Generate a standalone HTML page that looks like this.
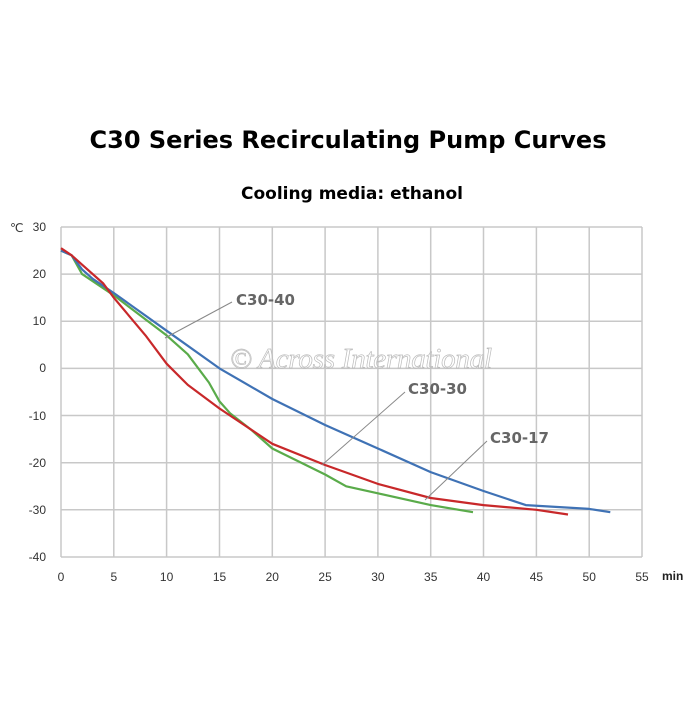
<!DOCTYPE html>
<html><head><style>body{margin:0;background:#fff}</style></head><body>
<svg width="700" height="700" xmlns="http://www.w3.org/2000/svg" font-family="Liberation Sans, DejaVu Sans, sans-serif">
<text x="348" y="148" text-anchor="middle" font-size="24" font-weight="bold" font-family="DejaVu Sans, sans-serif">C30 Series Recirculating Pump Curves</text>
<text x="352" y="199" text-anchor="middle" font-size="17" font-weight="bold" font-family="DejaVu Sans, sans-serif">Cooling media: ethanol</text>
<g stroke="#c8c8c8" stroke-width="1.5" fill="none">
<line x1="61" y1="227" x2="61" y2="557"/><line x1="113.8" y1="227" x2="113.8" y2="557"/><line x1="166.6" y1="227" x2="166.6" y2="557"/><line x1="219.5" y1="227" x2="219.5" y2="557"/><line x1="272.3" y1="227" x2="272.3" y2="557"/><line x1="325.1" y1="227" x2="325.1" y2="557"/><line x1="377.9" y1="227" x2="377.9" y2="557"/><line x1="430.7" y1="227" x2="430.7" y2="557"/><line x1="483.5" y1="227" x2="483.5" y2="557"/><line x1="536.4" y1="227" x2="536.4" y2="557"/><line x1="589.2" y1="227" x2="589.2" y2="557"/><line x1="642" y1="227" x2="642" y2="557"/>
<line x1="61" y1="227" x2="642" y2="227"/><line x1="61" y1="274.1" x2="642" y2="274.1"/><line x1="61" y1="321.3" x2="642" y2="321.3"/><line x1="61" y1="368.4" x2="642" y2="368.4"/><line x1="61" y1="415.5" x2="642" y2="415.5"/><line x1="61" y1="462.7" x2="642" y2="462.7"/><line x1="61" y1="509.8" x2="642" y2="509.8"/><line x1="61" y1="557" x2="642" y2="557"/>
</g>
<g font-size="12" fill="#333" text-anchor="middle">
<text x="61" y="581">0</text><text x="113.8" y="581">5</text><text x="166.6" y="581">10</text><text x="219.5" y="581">15</text><text x="272.3" y="581">20</text><text x="325.1" y="581">25</text><text x="377.9" y="581">30</text><text x="430.7" y="581">35</text><text x="483.5" y="581">40</text><text x="536.4" y="581">45</text><text x="589.2" y="581">50</text><text x="642" y="581">55</text>
</g>
<g font-size="12" fill="#333" text-anchor="end">
<text x="46" y="231">30</text><text x="46" y="278">20</text><text x="46" y="325">10</text><text x="46" y="372">0</text><text x="46" y="420">-10</text><text x="46" y="467">-20</text><text x="46" y="514">-30</text><text x="46" y="561">-40</text>
</g>
<text x="10" y="232" font-size="12" fill="#333">℃</text>
<text x="662" y="580" font-size="12" fill="#222" font-weight="bold">min</text>
<text x="230" y="368" font-size="29" font-style="italic" fill="none" stroke="#bbb" stroke-width="0.7" font-family="Liberation Serif, serif" textLength="262">© Across International</text>
<g fill="none" stroke-width="2.2" stroke-linejoin="round">
<polyline stroke="#5aab4a" points="61,250.6 71.6,255.3 82.1,274.1 113.8,295.3 166.6,335.4 187.8,354.3 208.9,382.5 219.5,401.4 230,413.2 251.1,429.7 272.3,448.5 325.1,474.5 346.2,486.3 377.9,493.3 430.7,505.1 473,512.2"/>
<polyline stroke="#3f72b5" points="61,250.6 71.6,255.3 82.1,269.4 92.7,278.8 113.8,293 166.6,330.7 219.5,368.4 272.3,399 325.1,425 377.9,448.5 430.7,472.1 483.5,491 525.8,505.1 589.2,508.9 610.3,512.2"/>
<polyline stroke="#c8282a" points="61,248.2 71.6,255.3 82.1,264.7 103.3,283.5 113.8,297.7 145.5,335.4 166.6,363.7 187.8,384.9 219.5,408.5 272.3,443.8 325.1,465 377.9,483.9 430.7,498 483.5,505.1 536.4,509.8 568,514.5"/>
</g>
<g stroke="#888" stroke-width="1">
<line x1="165" y1="338" x2="232" y2="302"/><line x1="322" y1="465" x2="405" y2="392"/><line x1="425" y1="500" x2="487" y2="441"/>
</g>
<g font-size="15" font-weight="bold" fill="#666" font-family="DejaVu Sans, sans-serif">
<text x="236" y="305">C30-40</text><text x="408" y="394">C30-30</text><text x="490" y="443">C30-17</text>
</g>
</svg>
</body></html>
